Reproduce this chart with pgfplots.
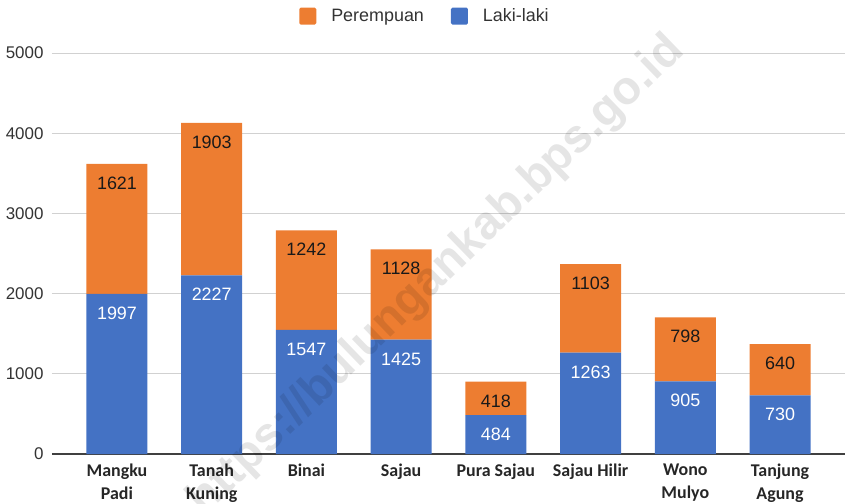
\documentclass[border=0pt]{standalone}
\usepackage{pgfplots}
\pgfplotsset{compat=1.18}
\usepackage{pgfplotstable}
\usepackage{fontspec}
\setmainfont{Liberation Sans}
\newfontfamily\carlito{Carlito}
\definecolor{lk}{HTML}{4472C4}
\definecolor{pr}{HTML}{ED7D31}
\pgfplotstableread{
x lk pr
0 1997 1621
1 2227 1903
2 1547 1242
3 1425 1128
4 484 418
5 1263 1103
6 905 798
7 730 640
}\data
\begin{document}
\begin{tikzpicture}
\useasboundingbox (-52bp,-50bp) rectangle (794bp,454bp);
\begin{axis}[at={(0,0)}, anchor=south west, scale only axis,
  width=793bp, height=401bp,
  ybar stacked, bar width=61bp,
  xmin=-0.686, xmax=7.686, ymin=0, ymax=5000,
  xtick={0,...,7},
  xticklabels={Mangku\\Padi, Tanah\\Kuning, Binai, Sajau, Pura Sajau, Sajau Hilir, Wono\\Mulyo, Tanjung\\Agung},
  xticklabel style={align=center, font=\carlito\bfseries\fontsize{18}{23}\selectfont, text=black!85, yshift=-6bp},
  ytick={0,1000,...,5000},
  yticklabel style={font=\fontsize{17}{20}\selectfont, text=black!80, xshift=-5bp},
  /pgf/number format/assume math mode=true,
  /pgf/number format/set thousands separator={},
  ymajorgrids, grid style={color=black!18, line width=1bp},
  axis lines*=left,
  x axis line style={draw=black!75, line width=1.5bp},
  y axis line style={draw=none},
  major tick length=0pt,
  tick style={draw=none},
  reverse legend,
  legend columns=2,
  legend style={draw=none, fill=none, at={(0.4546,1.092)}, anchor=center,
    font=\fontsize{18}{20}\selectfont, text=black!80,
    /tikz/every even column/.append style={column sep=0pt},
    /tikz/every odd column/.append style={column sep=0pt}},
  every node near coord/.append style={font=\fontsize{18}{20}\selectfont, anchor=north,
    yshift={(\pgfplotspointmeta*0.0401-9.5)*1bp}},
]
\addplot[fill=lk, draw=none, nodes near coords, point meta=explicit symbolic,
  every node near coord/.append style={text=white},
  legend image code/.code={\path[draw=none,fill=none] (-25bp,0) -- (30bp,0); \path[draw=none, fill=lk, rounded corners=1.5bp] (0bp,-8.5bp) rectangle (17bp,8.5bp);}]
  table[x=x, y=lk, meta=lk] {\data};
\addlegendentry{Laki-laki}
\addplot[fill=pr, draw=none, nodes near coords, point meta=explicit symbolic,
  every node near coord/.append style={text=black!90},
  legend image code/.code={\path[draw=none,fill=none] (-25bp,0) -- (30bp,0); \path[draw=none, fill=pr, rounded corners=1.5bp] (0bp,-8.5bp) rectangle (17bp,8.5bp);}]
  table[x=x, y=pr, meta=pr] {\data};
\addlegendentry{Perempuan}
\end{axis}
\node[rotate=44, font=\bfseries\fontsize{47}{47}\selectfont, text=black, opacity=0.1] at (385bp,178bp) {https://bulungankab.bps.go.id};
\end{tikzpicture}
\end{document}
